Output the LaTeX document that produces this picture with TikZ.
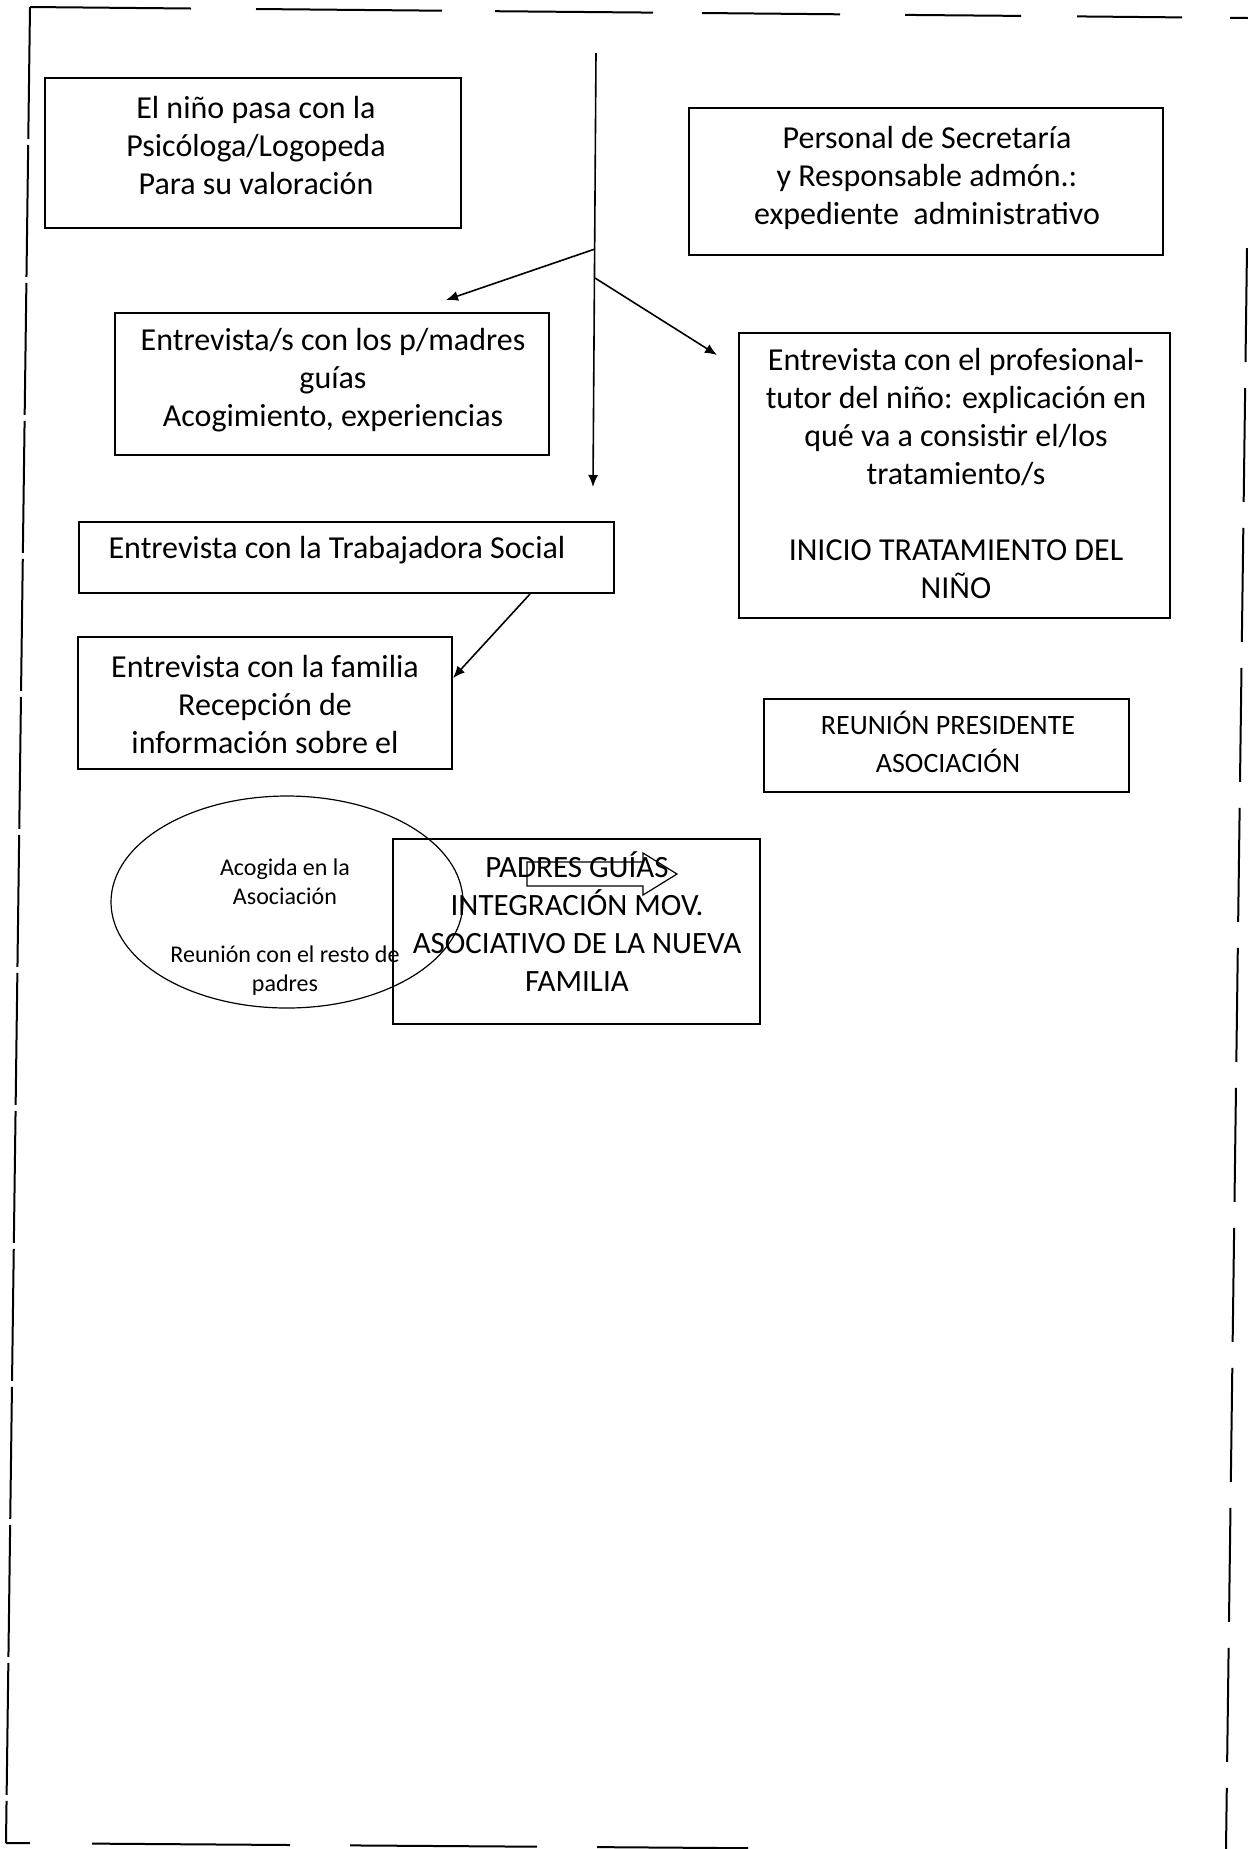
\documentclass[tikz,border=0pt]{standalone}
\usepackage{fontspec}
\setmainfont{Carlito}
\usetikzlibrary{arrows.meta,shapes.geometric}
\begin{document}
\begin{tikzpicture}[x=0.5pt,y=-0.5pt,
  box/.style={draw,line width=1pt,inner sep=0pt,rectangle},
  txt/.style={align=center,inner sep=0pt,font=\fontsize{16}{19}\selectfont},
  capsbig/.style={align=center,inner sep=0pt,font=\fontsize{15.5}{19}\selectfont},
  caps/.style={align=center,inner sep=0pt,font=\fontsize{14}{19}\selectfont},
  small/.style={align=center,inner sep=0pt,font=\fontsize{12}{14.5}\selectfont},
  arr/.style={-{Latex[length=6pt,width=5pt]},line width=0.8pt},
  frame/.style={line width=1pt}]
\useasboundingbox (0,0) rectangle (1248,1849);

% outer frame (scanned, broken)
\draw[frame] (30,7) -- (191,8.5);
\draw[frame] (256,9) -- (442,10.7);
\draw[frame] (495,11.2) -- (653,12.6);
\draw[frame] (702,13) -- (840,14.3);
\draw[frame] (905,14.9) -- (1021,15.9);
\draw[frame] (1077,16.4) -- (1182,17.4);
\draw[frame] (1230,17.8) -- (1248,18);
\draw[frame,dash pattern=on 66pt off 3pt] (30,7) -- (6,1843);
\draw[frame,dash pattern=on 57pt off 13pt] (1247,248) -- (1226,1849);
\draw[frame] (6,1843) -- (30,1843.2);
\draw[frame] (92,1843.6) -- (290,1845);
\draw[frame] (350,1845.4) -- (537,1846.7);
\draw[frame] (597,1847.1) -- (748,1848.2);

% boxes
\node[box,minimum width=208pt,minimum height=75pt] (b1) at (253,153) {};
\node[box,minimum width=237pt,minimum height=73.5pt] (b2) at (926,181.5) {};
\node[box,minimum width=217pt,minimum height=71pt] (b3) at (332,384) {};
\node[box,minimum width=215.5pt,minimum height=142.5pt] (b4) at (954.5,475.5) {};
\node[box,minimum width=267.5pt,minimum height=35.5pt] (b5) at (346.5,557.5) {};
\node[box,minimum width=187pt,minimum height=66pt] (b6) at (265,703) {};
\node[box,minimum width=182.5pt,minimum height=46.5pt] (b7) at (946.5,745.5) {};
\node[box,minimum width=183.5pt,minimum height=92.5pt] (b8) at (576.5,931.5) {};
\node[draw,ellipse,line width=0.6pt,inner sep=0pt,minimum width=176pt,minimum height=106pt] (el) at (287,902) {};

% texts
\node[txt] (t1) at (256,145) {El niño pasa con la\\Psicóloga/Logopeda\\Para su valoración};
\node[txt] (t2) at (927,178) {Personal de Secretaría\\y Responsable admón.:\\expediente\ \ administrativo};
\node[txt] (t3) at (333,380) {Entrevista/s con los p/madres\\guías\\Acogimiento, experiencias};
\node[txt] (t4) at (956,473) {Entrevista con el profesional-\\tutor del niño: explicación en\\qué va a consistir el/los\\tratamiento/s\\[19pt]INICIO TRATAMIENTO DEL\\NIÑO};
\node[txt] (t5) at (337,550) {Entrevista con la Trabajadora Social};
\node[txt] (t6) at (265,704) {Entrevista con la familia\\Recepción de\\información sobre el};
\node[caps] (t7) at (948,742) {REUNIÓN PRESIDENTE\\ASOCIACIÓN};
\node[small] (t9) at (285,927) {Acogida en la\\Asociación\\[14.5pt]Reunión con el resto de\\padres};
\node[capsbig] (t8) at (577,922) {PADRES GUÍAS\\INTEGRACIÓN MOV.\\ASOCIATIVO DE LA NUEVA\\FAMILIA};

% block arrow outline over PADRES GUÍAS
\draw[line width=0.6pt] (527,862) -- (643,862) -- (643,853) -- (677,874) -- (643,895) -- (643,886) -- (527,886) -- cycle;

% connectors
\coordinate (vtop) at (596,53);
\coordinate (vbot) at (593,487);
\coordinate (br1) at (595,249);
\coordinate (br2) at (595,278);
\draw[arr] (vtop) -- (vbot);
\draw[arr] (br1) -- ([xshift=57pt,yshift=6pt]b3.north);
\draw[arr] (br2) -- ([xshift=-10.5pt,yshift=-11.5pt]b4.north west);
\draw[arr] ([xshift=-42.5pt]b5.south east) -- ([yshift=12.5pt]b6.east);
\end{tikzpicture}
\end{document}
